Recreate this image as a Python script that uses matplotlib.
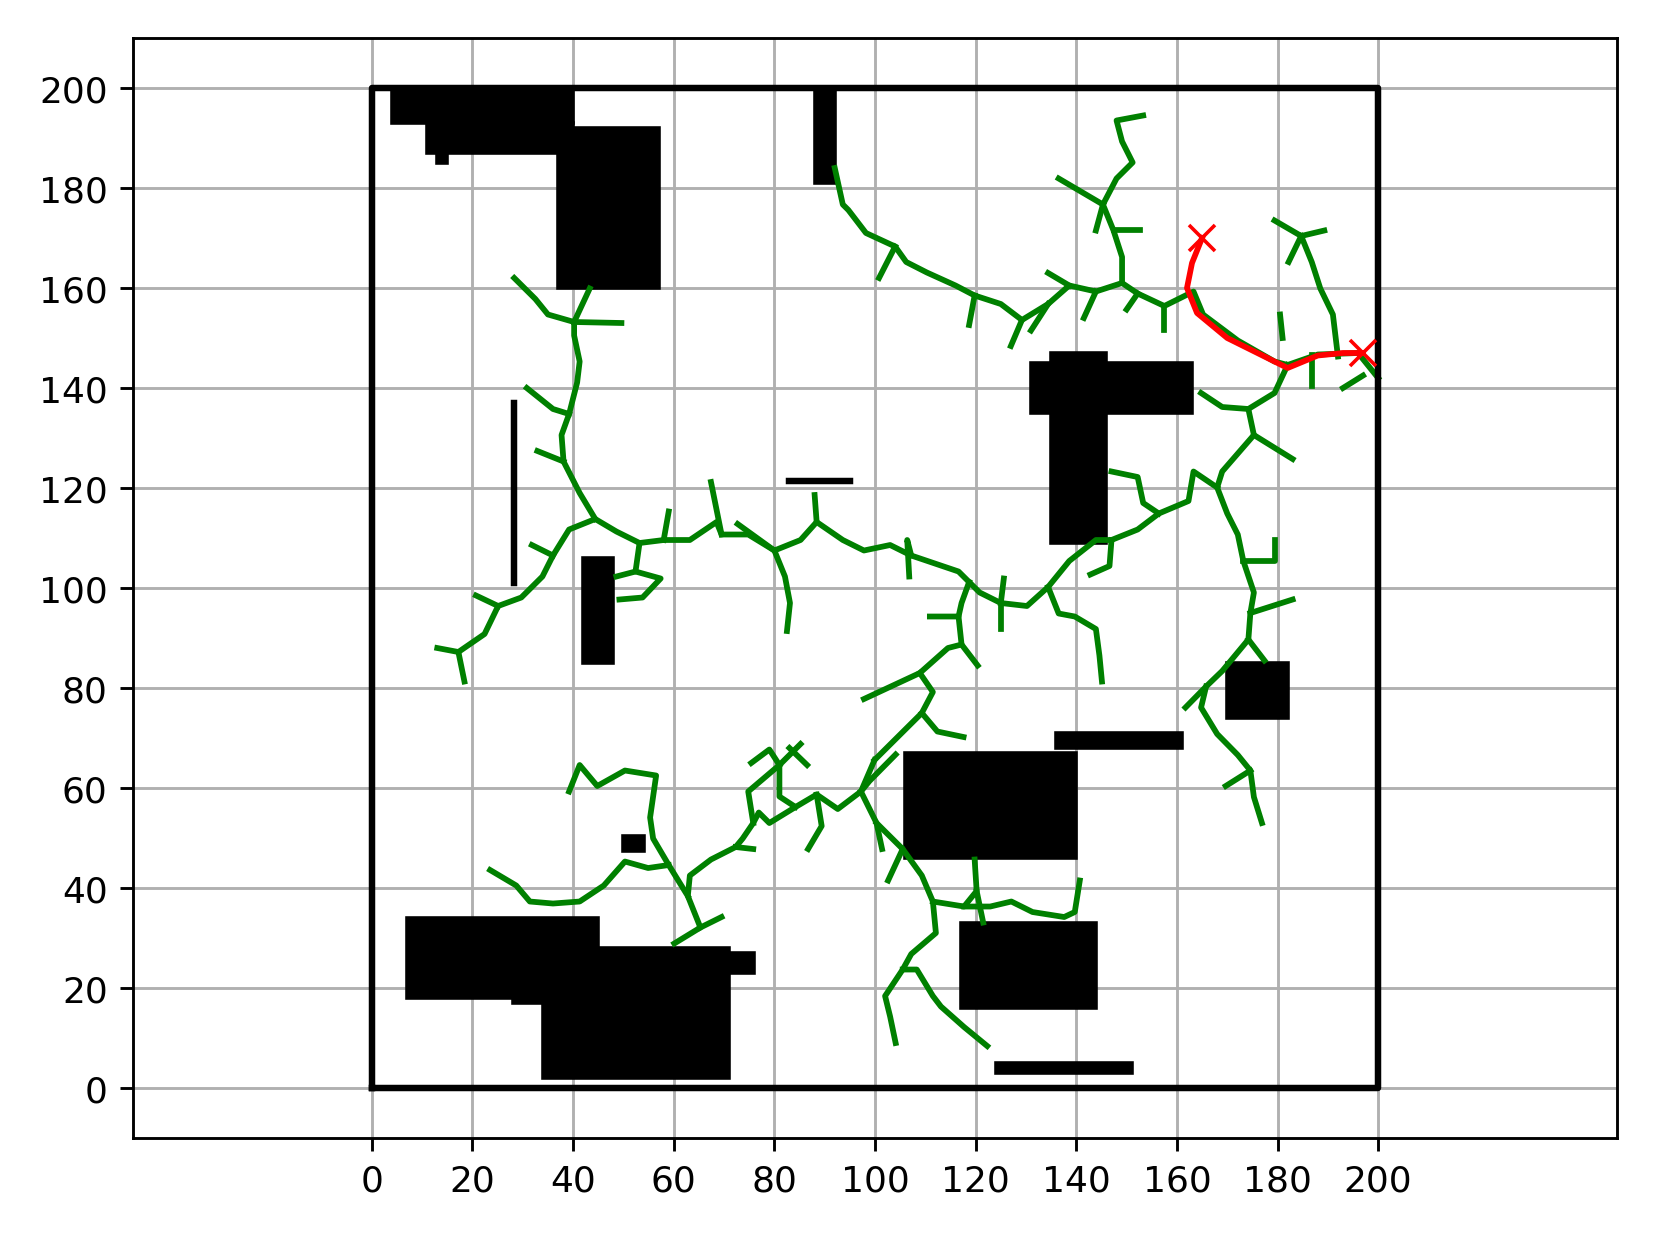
import matplotlib
matplotlib.use("Agg")
import matplotlib.pyplot as plt
from matplotlib.patches import Rectangle

# obstacles: (x, y, w, h)
obstacles = [
    (4, 193, 36, 7), (11, 187, 29, 6), (13, 185, 2, 2), (37, 160, 20, 32),
    (88, 181, 4, 19), (42, 85, 6, 21),
    (131, 135, 32, 10), (135, 109, 11, 38), (170, 74, 12, 11),
    (136, 68, 25, 3), (106, 46, 34, 21), (50, 47.5, 4, 3),
    (117, 16, 27, 17), (124, 3, 27, 2),
    (7, 18, 38, 16), (28, 17, 6, 1), (34, 2, 37, 26), (71, 23, 5, 4),
]
thin_lines = [([28.3, 28.3], [101, 137]), ([83, 95], [121.5, 121.5])]

branches = [
    [(92,184),(93.6,176.7),(94.7,175.6),(98.2,171),(104,168.3),(106.2,165.2),(110.3,163.1),(116,160.5),
     (119.8,158.5),(125,156.8),(129.2,153.6),(134.4,156.8),(138.6,160.5),(143.9,159.3),(149.1,161),
     (152.2,158.9),(157.5,156.4),(163.3,159.3),(165.2,154.7),(172.1,149.5),(179.4,145.3),(182,144.6),
     (188,146.7),(196,147),(200,142)],
    [(104,168.3),(100.8,162)], [(129.2,153.6),(127,148.4)], [(119.8,158.5),(118.7,152.6)],
    [(138.6,160.5),(134.4,163)], [(152.2,158.9),(150,155.7)], [(157.5,156.4),(157.5,151.5)],
    [(143.9,159.3),(141.5,154)], [(134.4,156.8),(131,151.5)],
    [(149.1,161),(149.1,166.2),(147.4,171.5),(145.3,176.7),(148,181.9),(151.2,185.1),(149.1,189.3),(148,193.5),(153.3,194.5)],
    [(145.3,176.7),(136.5,181.9)], [(147.4,171.5),(152.6,171.5)], [(145.3,176.7),(143.9,171.5)],
    [(179.4,173.5),(184.7,170.4),(189.3,171.5)],
    [(184.7,170.4),(186.8,165.2),(188.5,159.9),(191,154.7),(192,146.3)],
    [(184.7,170.4),(182.2,165.2)], [(180.5,154.7),(181,150)], [(186.8,146.7),(186.8,140.4)],
    [(193,140),(197,142.5)],
    [(182,144.6),(179.4,139),(174.2,135.8),(175.3,130.6),(169,123.3),(168,120.1),(170,114.9),(172.1,110.7),
     (173.2,105.4),(175.3,99.1),(174.6,95),(174.2,89.7),(169,83.4),(165.8,80.3),(161.7,76.1)],
    [(174.2,135.8),(169,136.2),(164.8,139)], [(175.3,130.6),(183,125.8)], [(174.2,89.7),(177.4,85.5)],
    [(174.6,95),(183,97.7)], [(173.2,105.4),(179.4,105.4),(179.4,109.6)],
    [(165.8,80.3),(164.8,76.1),(168,70.8),(172.1,66.6),(174.6,63.5),(175.3,58.2),(176.9,53)],
    [(174.6,63.5),(169.7,60.4)],
    [(168,120.1),(163.3,123.3),(162.3,117.4),(156.4,114.9),(152.2,111.7),(147,109.6),(143.9,109.6),
     (138.6,105.4),(134.4,100.2),(130.2,96.4),(125,97),(120.8,99.1),(118.7,101.2),(116.6,103.3),
     (107.2,106.5),(103,108.6),(97.8,107.5),(93.6,109.6),(88.4,113.2),(85.2,109.6),(80,107.5),
     (74.8,110.7),(69.5,110.7),(68.5,113.2),(63.2,109.6),(58,109.6),(53.2,109),(48.6,111.3),(44.4,113.8),
     (39.2,111.7),(36,106.5),(33.9,102.3),(29.7,98.1),(25.1,96.4),(22.4,90.8),(17.2,87.2),(13,88)],
    [(17.2,87.2),(18.4,81.3)], [(25.1,96.4),(20.7,98.5)], [(36,106.5),(31.8,108.6)],
    [(147,123.3),(152.2,122.2),(153.3,117),(156.4,114.9)], [(147,109.6),(146.6,104.4),(142.8,102.7)],
    [(134.4,100.2),(136.5,94.9),(139.7,94.3),(143.9,91.8),(144.6,86.5),(145.1,81.3)],
    [(125,97),(125,91.8)], [(125,97),(125.6,101.9)],
    [(118.7,101.2),(117.2,97),(116.6,94.3),(110.9,94.3)],
    [(116.6,94.3),(117.2,88.7),(114.5,88),(108.9,83),(97.8,77.8)], [(117.2,88.7),(120.4,84.5)],
    [(108.9,83),(111.5,79.2),(109.3,75),(105.1,70.8),(99.9,65.6)],
    [(109.3,75),(112.4,71.3),(117.6,70.2)],
    [(107.2,106.5),(106.4,109.6),(106.8,102.3)], [(88.4,113.2),(88,118.6)], [(80,107.5),(72.7,112.8)],
    [(80,107.5),(82.1,102.3),(83.1,97),(82.5,91.4)], [(69.5,110.7),(67.4,121.2)], [(58,109.6),(59,115.3)],
    [(53.2,109),(52.4,103.3),(48.6,102.3)], [(52.4,103.3),(57.4,101.9),(53.8,98.1),(49.2,97.7)],
    [(44.4,113.8),(41.3,119),(38.1,125.3),(37.7,130.6),(39.2,134.8),(40.8,141.1),(41.3,145.3),(40.2,150.5),
     (40.2,153.2),(35,154.7),(32.5,157.8),(28.3,162)],
    [(38.1,125.3),(32.9,127.4)], [(39.2,134.8),(36,135.8),(30.8,140)], [(40.2,153.2),(49.6,153)],
    [(40.2,153.2),(43.3,159.9)],
    [(99.9,65.6),(97.2,59.3),(92.6,55.8),(88.4,58.7),(84.2,56.2),(79,53),(76.9,55.1),(75.8,53),(73.7,49.9),
     (72.3,48.2),(67.4,45.7),(63.2,42.5),(62.8,38.4),(65.3,32.1),(60.1,28.9)],
    [(62.8,38.4),(59,44.6),(55.9,49.9),(55.3,54.1),(56.5,62.5),(50.3,63.5),(44.8,60.4),(41.3,64.6),(39.2,59.3)],
    [(59,44.6),(54.9,44),(50.3,45.3),(46.1,40.5),(41.3,37.3),(36,36.9),(31.4,37.3),(28.7,40.5),(23.5,43.6)],
    [(65.3,32.1),(69.5,34.2)], [(72.3,48.2),(75.8,47.8)],
    [(75.8,53),(74.8,59.3),(81,64.6),(85.2,68.8)], [(81,64.6),(79,67.7),(75.4,65)],
    [(81,64.6),(81,58.3),(84.2,56.2)], [(83,68),(86.5,64.6)],
    [(88.4,58.7),(89.4,52.4),(86.7,47.8)],
    [(97.2,59.3),(100.3,53),(101.4,47.8)], [(97.2,59.3),(98.9,61.4),(104.1,66.7)],
    [(100.3,53),(105.5,47.8),(102.6,41.5)],
    [(105.5,47.8),(109.3,42.5),(111.5,37.3),(112.1,31),(107.2,26.8),(105.5,23.7),(102,18.4),(103,14.3),(104.1,9)],
    [(105.5,23.7),(108.3,23.7),(111.5,18.4),(113.1,16.3),(117.7,12.2),(122.3,8.4)],
    [(111.5,37.3),(117.7,36.3),(120.2,39.4),(119.8,45.7)],
    [(117.7,36.3),(122.9,36.3),(127.1,37.3),(131.3,35.2),(137.6,34.2),(139.7,35.2),(140.7,41.5)],
    [(120.2,39.4),(121.5,33.1)],
]

path_x = [165, 163, 162, 164, 170, 176, 182, 188, 193, 197]
path_y = [170, 165, 160, 155, 150, 147, 144, 146.5, 147, 147]

fig, ax = plt.subplots(figsize=(6.4, 4.78), dpi=258.75)
for (x, y, w, h) in obstacles:
    ax.add_patch(Rectangle((x, y), w, h, color='black', zorder=2))
for xs, ys in thin_lines:
    ax.plot(xs, ys, color='black', lw=1.8, zorder=2)
for b in branches:
    ax.plot([p[0] for p in b], [p[1] for p in b], color='green', lw=1.6, zorder=3)
ax.plot(path_x, path_y, color='red', lw=1.6, zorder=4)
ax.plot([path_x[0], path_x[-1]], [path_y[0], path_y[-1]], 'rx', ms=7, zorder=5)
ax.plot([0, 200, 200, 0, 0], [0, 0, 200, 200, 0], color='black', lw=1.8, zorder=4)
ax.set_xlim(-47.5, 247.5)
ax.set_ylim(-10, 210)
ax.set_xticks(range(0, 201, 20))
ax.set_yticks(range(0, 201, 20))
ax.grid(True)
ax.set_axisbelow(True)
plt.tight_layout()
plt.savefig('out.png')
